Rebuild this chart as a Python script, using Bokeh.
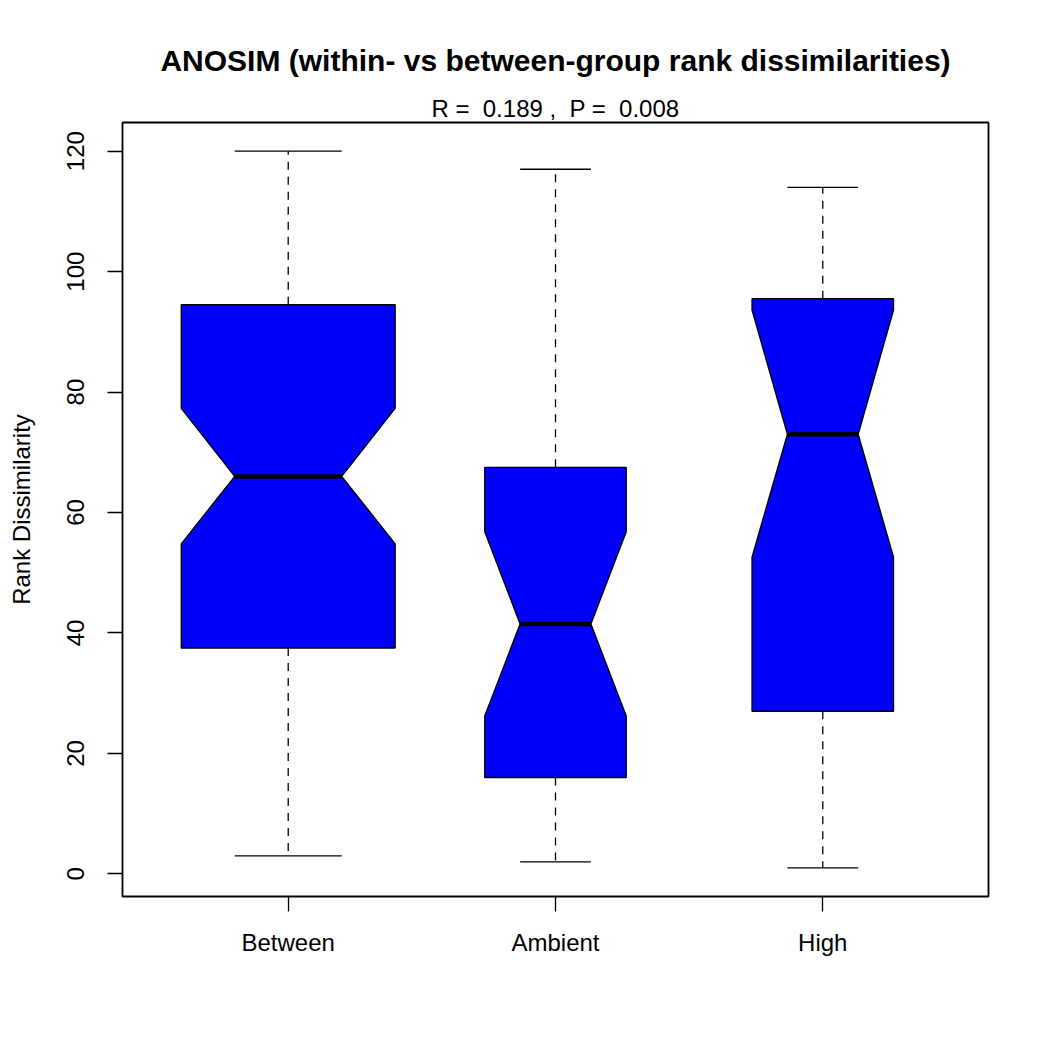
import math
from bokeh.plotting import figure
from bokeh.models import Title, FixedTicker, Range1d
from bokeh.embed import file_html
from bokeh.resources import INLINE

# ---- data ----
categories = ["Between", "Ambient", "High"]
n_pairs = [64, 28, 28]
whisker_low = [3, 2, 1]
q1 = [37.5, 16, 27]
median = [66, 41.5, 73]
q3 = [94.5, 67.5, 95.5]
whisker_high = [120, 117, 114]
notch_low = [54.8, 26.2, 52.6]
notch_high = [77.3, 56.8, 93.6]
y_ticks = [0, 20, 40, 60, 80, 100, 120]

title_text = "ANOSIM (within- vs between-group rank dissimilarities)"
subtitle_text = "R =\u00a0 0.189 ,\u00a0 P =\u00a0 0.008"
y_label = "Rank Dissimilarity"

FONT = "Liberation Sans"

# ---- geometry derived from data (R boxplot, varwidth + notch) ----
xs = [i + 1 for i in range(len(categories))]
nmax = max(n_pairs)
half_w = [0.4 * math.sqrt(n / nmax) for n in n_pairs]

poly_x, poly_y = [], []
for x, w, a, nl, m, nu, b in zip(xs, half_w, q1, notch_low, median, notch_high, q3):
    poly_x.append([x - w, x - w, x - w / 2, x - w, x - w, x + w, x + w, x + w / 2, x + w, x + w])
    poly_y.append([a, nl, m, nu, b, b, nu, m, nl, a])

p = figure(width=1042, height=1042, output_backend="svg", toolbar_location=None,
           title=None,
           x_range=Range1d(0.38, 3.62), y_range=Range1d(-3.76, 124.76),
           min_border_left=122, min_border_right=54, min_border_top=122, min_border_bottom=146)
p.background_fill_color = "white"
p.border_fill_color = "white"
p.xgrid.visible = False
p.ygrid.visible = False
p.outline_line_color = "black"
p.outline_line_width = 1.8
p.outline_line_alpha = 1.0

# whiskers
p.segment(x0=xs, y0=q3, x1=xs, y1=whisker_high, line_color="black", line_width=1.3, line_dash="8 7")
p.segment(x0=xs, y0=q1, x1=xs, y1=whisker_low, line_color="black", line_width=1.3, line_dash="8 7")
# caps
p.segment(x0=[x - w / 2 for x, w in zip(xs, half_w)], y0=whisker_high,
          x1=[x + w / 2 for x, w in zip(xs, half_w)], y1=whisker_high, line_color="black", line_width=1.3)
p.segment(x0=[x - w / 2 for x, w in zip(xs, half_w)], y0=whisker_low,
          x1=[x + w / 2 for x, w in zip(xs, half_w)], y1=whisker_low, line_color="black", line_width=1.3)
# boxes
p.patches(xs=poly_x, ys=poly_y, fill_color="#0000FF", line_color="black", line_width=1.4)
# medians
p.segment(x0=[x - w / 2 for x, w in zip(xs, half_w)], y0=median,
          x1=[x + w / 2 for x, w in zip(xs, half_w)], y1=median, line_color="black", line_width=4.5)

# axes
xa = p.xaxis[0]
xa.ticker = FixedTicker(ticks=xs)
xa.major_label_overrides = {x: c for x, c in zip(xs, categories)}
xa.minor_tick_line_color = None
xa.axis_line_color = None
xa.major_tick_in = 0
xa.major_tick_out = 15
xa.major_tick_line_width = 1.3
xa.major_label_text_font = FONT
xa.major_label_text_font_size = "24px"
xa.major_label_text_color = "black"
xa.major_label_standoff = 17

ya = p.yaxis[0]
ya.ticker = FixedTicker(ticks=y_ticks)
ya.minor_tick_line_color = None
ya.axis_line_color = None
ya.major_tick_in = 0
ya.major_tick_out = 15
ya.major_tick_line_width = 1.3
ya.major_label_orientation = "vertical"
ya.major_label_text_font = FONT
ya.major_label_text_font_size = "24px"
ya.major_label_text_color = "black"
ya.major_label_standoff = 23
ya.axis_label = y_label
ya.axis_label_text_font = FONT
ya.axis_label_text_font_size = "24px"
ya.axis_label_text_font_style = "normal"
ya.axis_label_text_color = "black"
ya.axis_label_standoff = 30

# titles (first added sits nearest the frame)
p.add_layout(Title(text=subtitle_text, align="center", text_font=FONT, text_font_size="24px",
                   text_font_style="normal", text_color="black", standoff=2), "above")
p.add_layout(Title(text=title_text, align="center", text_font=FONT, text_font_size="30px",
                   text_font_style="bold", text_color="black", standoff=30), "above")

open("out.html", "w").write(file_html(p, INLINE))
